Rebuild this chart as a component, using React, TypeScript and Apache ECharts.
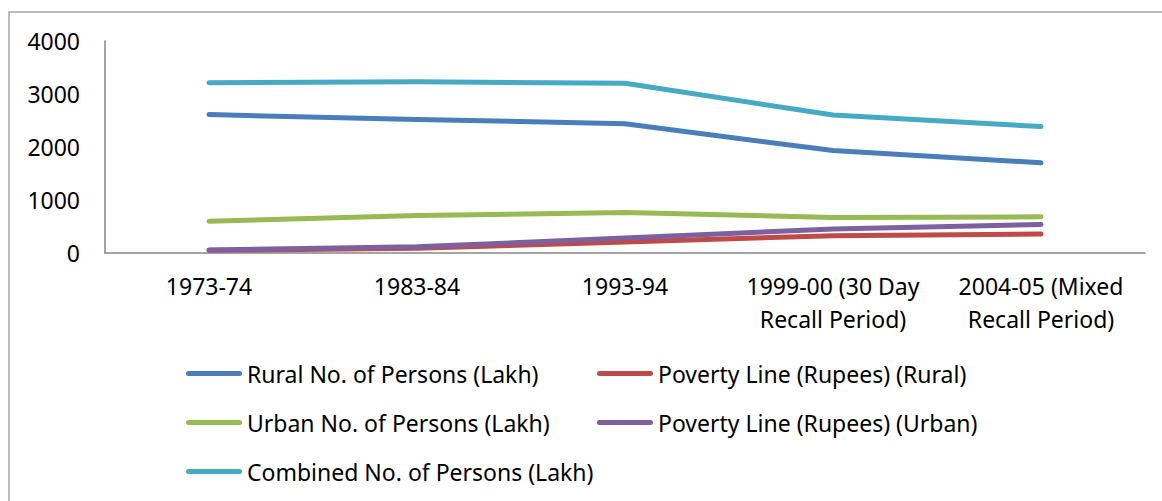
import React, { useEffect, useRef } from "react";
import * as echarts from "echarts";

// Survey periods on the category axis
const periods = [
  "1973-74",
  "1983-84",
  "1993-94",
  "1999-00 (30 Day\nRecall Period)",
  "2004-05 (Mixed\nRecall Period)",
];

// Poverty estimates
const ruralPersons = [2612, 2519, 2440, 1932, 1702];
const povertyLineRural = [49.63, 89.5, 205.84, 327.56, 356.3];
const urbanPersons = [600, 709, 763, 671, 682];
const povertyLineUrban = [56.76, 115.65, 281.35, 454.11, 538.6];
const combinedPersons = [3213, 3229, 3203, 2602, 2385];

const yTicks = { min: 0, max: 4000, interval: 1000 };

const seriesDefs = [
  { name: "Rural No. of Persons (Lakh)", data: ruralPersons, color: "#4A7EBB" },
  { name: "Poverty Line (Rupees) (Rural)", data: povertyLineRural, color: "#BE4B48" },
  { name: "Urban No. of Persons (Lakh)", data: urbanPersons, color: "#98B954" },
  { name: "Poverty Line (Rupees) (Urban)", data: povertyLineUrban, color: "#7D60A0" },
  { name: "Combined No. of Persons (Lakh)", data: combinedPersons, color: "#46AAC5" },
];

const FONT = "'Noto Sans', sans-serif";

export default function App() {
  const ref = useRef<HTMLDivElement>(null);

  useEffect(() => {
    if (!ref.current) return;
    const chart = echarts.init(ref.current, null, { renderer: "svg" });

    const legendCommon = {
      orient: "vertical" as const,
      padding: 0,
      icon: "path://M2.5,0 H53.5 A2.5,2.5 0 0 1 53.5,5 H2.5 A2.5,2.5 0 0 1 2.5,0 Z",
      itemWidth: 56,
      itemHeight: 5,
      itemGap: 26,
      textStyle: { fontFamily: FONT, fontSize: 23, color: "#000", padding: [0, 0, 0, 0] },
      selectedMode: false,
    };

    chart.setOption({
      animation: false,
      backgroundColor: "#fff",
      graphic: [
        {
          type: "rect",
          shape: { x: 9, y: 12, width: 1300, height: 700 },
          style: { fill: "none", stroke: "#a6a6a6", lineWidth: 1.5 },
          silent: true,
        },
      ],
      grid: { left: 105, right: 17, top: 41, bottom: 248 },
      xAxis: {
        type: "category",
        data: periods,
        boundaryGap: true,
        axisLine: { lineStyle: { color: "#868686", width: 1.5 } },
        axisTick: { show: false },
        axisLabel: {
          interval: 0,
          margin: 16,
          fontFamily: FONT,
          fontSize: 23,
          lineHeight: 33,
          color: "#000",
        },
      },
      yAxis: {
        type: "value",
        ...yTicks,
        axisLine: { show: true, lineStyle: { color: "#868686", width: 1.5 } },
        axisTick: { show: false },
        splitLine: { show: false },
        axisLabel: {
          margin: 25,
          fontFamily: FONT,
          fontSize: 23,
          color: "#000",
          formatter: (v: number) => String(v),
        },
      },
      legend: [
        {
          ...legendCommon,
          left: 186,
          top: 362,
          data: [seriesDefs[0].name, seriesDefs[2].name, seriesDefs[4].name],
        },
        {
          ...legendCommon,
          left: 597,
          top: 362,
          data: [seriesDefs[1].name, seriesDefs[3].name],
        },
      ],
      series: seriesDefs.map((s) => ({
        name: s.name,
        type: "line",
        data: s.data,
        symbol: "none",
        color: s.color,
        lineStyle: { color: s.color, width: 5, cap: "round", join: "round" },
      })),
    });

    return () => chart.dispose();
  }, []);

  return (
    <div
      ref={ref}
      style={{ position: "fixed", left: 0, top: 0, width: 1162, height: 501 }}
    />
  );
}
